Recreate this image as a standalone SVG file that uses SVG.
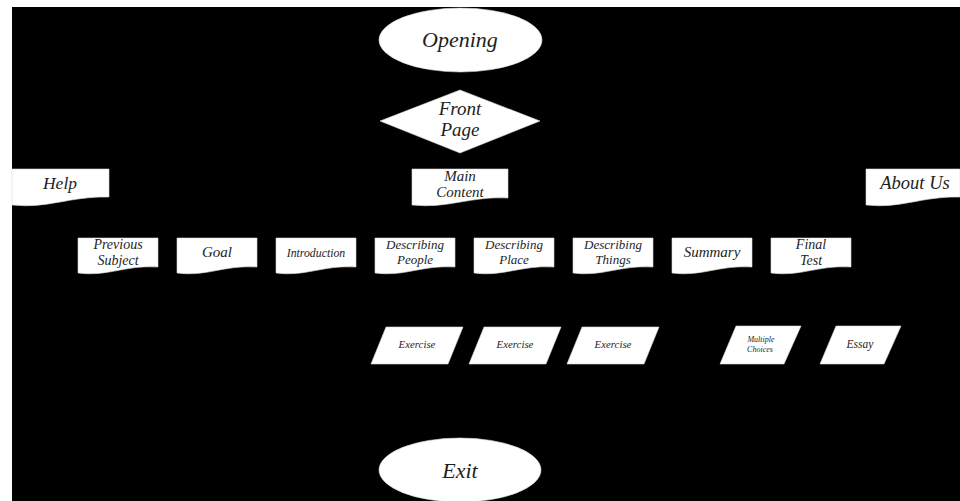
<svg xmlns="http://www.w3.org/2000/svg" xmlns:xlink="http://www.w3.org/1999/xlink" width="960" height="501" viewBox="0 0 960 501">
<style>
.shape{fill:#ffffff;stroke:#d8d8d8;stroke-width:0.6}
.t{font-family:"Liberation Serif","Times New Roman",serif;font-style:italic;fill:#1e1e1e;text-anchor:middle}
</style>
<defs>
<path id="doc80" d="M0,0 H80 V29 C46,27 30,39 0,35 Z"/>
<path id="para77" d="M15,0 H92 L77,37 H0 Z"/>
<path id="para64" d="M16,0 H81 L64,38 H0 Z"/>
</defs>
<rect x="0" y="0" width="960" height="501" fill="#ffffff"/>
<rect x="12" y="7" width="948" height="494" fill="#000000"/>
<g id="connectors"></g>
<g id="opening"><ellipse class="shape" cx="460.5" cy="40" rx="81.5" ry="32"/><text class="t" x="460" y="47" font-size="22">Opening</text></g>
<g id="front-page"><polygon class="shape" points="460,90 540,121 460,153 380,121"/><text class="t" x="460" y="115" font-size="19">Front</text><text class="t" x="460" y="136" font-size="19">Page</text></g>
<g id="help"><path class="shape" d="M12,169 H109 V197 C70,196 48,209 12,205 Z"/><text class="t" x="60" y="189" font-size="17.5">Help</text></g>
<g id="main-content"><path class="shape" d="M412,169 H508 V198 C470,196 448,209 412,205 Z"/><text class="t" x="460" y="181" font-size="15">Main</text><text class="t" x="460" y="197" font-size="15">Content</text></g>
<g id="about-us"><path class="shape" d="M866,169 H960 V197 C922,196 901,209 866,205 Z"/><text class="t" x="915" y="189" font-size="18.5">About Us</text></g>
<g id="previous-subject"><use href="#doc80" class="shape" x="78" y="238"/><text class="t" x="118" y="249" font-size="14">Previous</text><text class="t" x="118" y="265" font-size="14">Subject</text></g>
<g id="goal"><use href="#doc80" class="shape" x="177" y="238"/><text class="t" x="217" y="257" font-size="15">Goal</text></g>
<g id="introduction"><use href="#doc80" class="shape" x="276" y="238"/><text class="t" x="316" y="257" font-size="11.8">Introduction</text></g>
<g id="describing-people"><use href="#doc80" class="shape" x="375" y="238"/><text class="t" x="415" y="249" font-size="13">Describing</text><text class="t" x="415" y="264" font-size="13">People</text></g>
<g id="describing-place"><use href="#doc80" class="shape" x="474" y="238"/><text class="t" x="514" y="249" font-size="13">Describing</text><text class="t" x="514" y="264" font-size="13">Place</text></g>
<g id="describing-things"><use href="#doc80" class="shape" x="573" y="238"/><text class="t" x="613" y="249" font-size="13">Describing</text><text class="t" x="613" y="264" font-size="13">Things</text></g>
<g id="summary"><use href="#doc80" class="shape" x="672" y="238"/><text class="t" x="712" y="257" font-size="15">Summary</text></g>
<g id="final-test"><use href="#doc80" class="shape" x="771" y="238"/><text class="t" x="811" y="249" font-size="14">Final</text><text class="t" x="811" y="265" font-size="14">Test</text></g>
<g id="exercise-1"><use href="#para77" class="shape" x="371" y="327"/><text class="t" x="417" y="348" font-size="10.8">Exercise</text></g>
<g id="exercise-2"><use href="#para77" class="shape" x="469" y="327"/><text class="t" x="515" y="348" font-size="10.8">Exercise</text></g>
<g id="exercise-3"><use href="#para77" class="shape" x="567" y="327"/><text class="t" x="613" y="348" font-size="10.8">Exercise</text></g>
<g id="multiple-choices"><use href="#para64" class="shape" x="720" y="326"/><text class="t" x="761" y="342" font-size="8">Multiple</text><text class="t" x="760" y="352" font-size="8">Choices</text></g>
<g id="essay"><use href="#para64" class="shape" x="820" y="326"/><text class="t" x="860" y="348" font-size="11.5">Essay</text></g>
<g id="exit"><ellipse class="shape" cx="460" cy="470" rx="81" ry="32"/><text class="t" x="460" y="478" font-size="22">Exit</text></g>
</svg>
